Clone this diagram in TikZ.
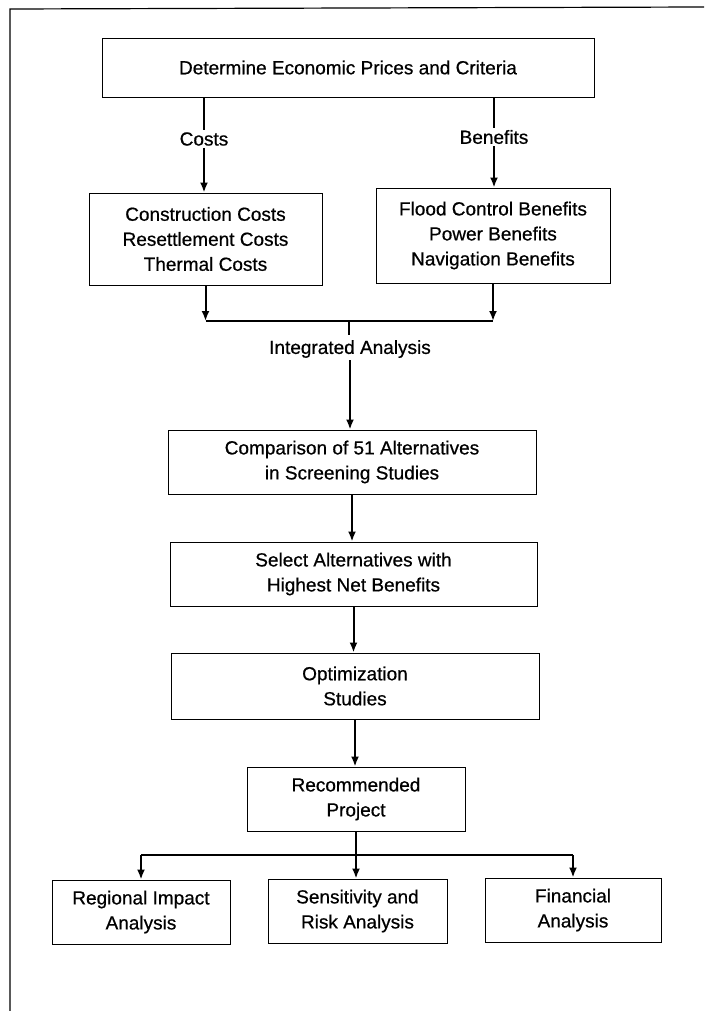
\documentclass[tikz,border=0pt]{standalone}
\usepackage{fontspec}
\setmainfont{Liberation Sans}
\newfontfamily\scanfont[FakeBold=0.6]{Liberation Sans}
\usetikzlibrary{arrows.meta}
\begin{document}
\begin{tikzpicture}[x=1pt,y=-1pt,
  box/.style={draw, line width=0.9pt, align=center, inner sep=0pt,
    font=\scanfont\fontsize{19}{25}\selectfont},
  lbl/.style={inner sep=2pt, font=\scanfont\fontsize{19}{25}\selectfont},
  arr/.style={line width=2pt, -{Latex[length=10pt,width=8pt]}},
  ln/.style={line width=2pt}]
\useasboundingbox (0,0) rectangle (704,1011);
% frame
\draw[line width=1.2pt] (10,1011) -- (10,9) -- (704,7);
% boxes
\node[box, minimum width=492pt, minimum height=59pt] (b1) at (348,67.5) {Determine Economic Prices and Criteria};
\node[box, minimum width=233pt, minimum height=92pt] (b2l) at (205.5,239) {Construction Costs\\Resettlement Costs\\Thermal Costs};
\node[box, minimum width=234pt, minimum height=95pt] (b2r) at (493,235.5) {Flood Control Benefits\\Power Benefits\\Navigation Benefits};
\node[box, minimum width=368pt, minimum height=64pt] (b3) at (352,462) {Comparison of 51 Alternatives\\in Screening Studies};
\node[box, minimum width=367pt, minimum height=64pt] (b4) at (353.5,574) {Select Alternatives with\\Highest Net Benefits};
\node[box, minimum width=368pt, minimum height=66pt] (b5) at (355,686) {Optimization\\Studies};
\node[box, minimum width=218pt, minimum height=64pt] (b6) at (356,799) {Recommended\\Project};
\node[box, minimum width=178pt, minimum height=64pt] (b7) at (141,912) {Regional Impact\\Analysis};
\node[box, minimum width=179pt, minimum height=64pt] (b8) at (357.5,911) {Sensitivity and\\Risk Analysis};
\node[box, minimum width=176pt, minimum height=64pt] (b9) at (573,910) {Financial\\Analysis};
% labels
\node[lbl] (costs) at (204,139) {Costs};
\node[lbl] (ben) at (494,137) {Benefits};
\node[lbl] (ia) at (350,349) {Integrated Analysis};
% connectors top
\draw[ln] (costs.north |- b1.south) -- (costs.north);
\draw[arr] (costs.south) -- (costs.south |- b2l.north);
\draw[ln] (ben.north |- b1.south) -- (ben.north);
\draw[arr] (ben.south) -- (ben.south |- b2r.north);
% merge
\coordinate (m) at (349,321);
\draw[arr] (b2l.south) -- (b2l.south |- m);
\draw[arr] (b2r.south) -- (b2r.south |- m);
\draw[ln] (b2l.south |- m) -- (b2r.south |- m);
\draw[ln] (m) -- ++(0,14);
\draw[arr] (ia.south) -- (ia.south |- b3.north);
% chain
\draw[arr] (b3.south) -- (b3.south |- b4.north);
\draw[arr] (b4.south) -- (b4.south |- b5.north);
\draw[arr] (b5.south) -- (b5.south |- b6.north);
% branch
\coordinate (br) at (355,855);
\draw[ln] (br -| b6.south) -- (b6.south);
\draw[ln] (b7.north |- br) -- (b9.north |- br);
\draw[arr] (b7.north |- br) -- (b7.north);
\draw[arr] (b6.south |- br) -- (b6.south |- b8.north);
\draw[arr] (b9.north |- br) -- (b9.north);
\end{tikzpicture}
\end{document}
